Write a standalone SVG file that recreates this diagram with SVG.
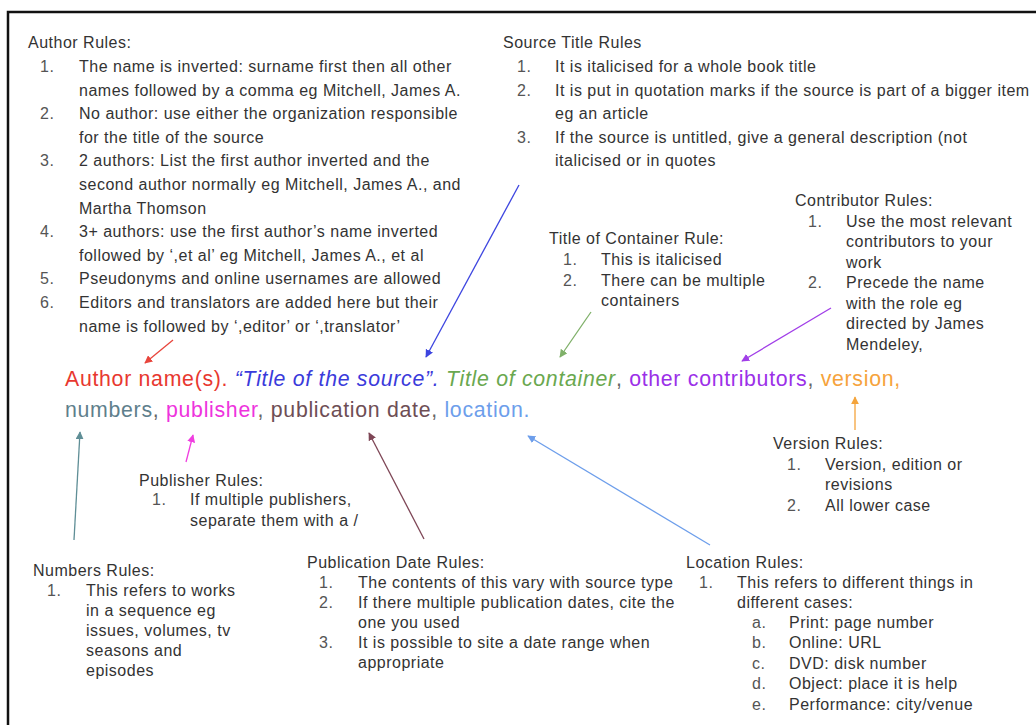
<svg xmlns="http://www.w3.org/2000/svg" width="1036" height="725" viewBox="0 0 1036 725">
<style>
.t{font-family:"Liberation Sans",Arial,sans-serif;font-size:16px;letter-spacing:0.5px;fill:#333}
.n{font-family:"Liberation Sans",Arial,sans-serif;font-size:16px;letter-spacing:0.5px;fill:#555}
.m{font-family:"Liberation Sans",Arial,sans-serif;font-size:21.3px;letter-spacing:0.7px;fill:#666}
.c{fill:none;stroke-width:1.3}
</style>
<defs>
<marker id="aRed" viewBox="0 0 10 10" refX="9" refY="5" markerWidth="8" markerHeight="8" markerUnits="userSpaceOnUse" orient="auto"><path d="M0,0 L10,5 L0,10 z" fill="#e8453c"/></marker>
<marker id="aBlue" viewBox="0 0 10 10" refX="9" refY="5" markerWidth="8" markerHeight="8" markerUnits="userSpaceOnUse" orient="auto"><path d="M0,0 L10,5 L0,10 z" fill="#3d45e0"/></marker>
<marker id="aGreen" viewBox="0 0 10 10" refX="9" refY="5" markerWidth="8" markerHeight="8" markerUnits="userSpaceOnUse" orient="auto"><path d="M0,0 L10,5 L0,10 z" fill="#7fb069"/></marker>
<marker id="aPurple" viewBox="0 0 10 10" refX="9" refY="5" markerWidth="8" markerHeight="8" markerUnits="userSpaceOnUse" orient="auto"><path d="M0,0 L10,5 L0,10 z" fill="#a13ee8"/></marker>
<marker id="aOrange" viewBox="0 0 10 10" refX="9" refY="5" markerWidth="8" markerHeight="8" markerUnits="userSpaceOnUse" orient="auto"><path d="M0,0 L10,5 L0,10 z" fill="#f4a43c"/></marker>
<marker id="aTeal" viewBox="0 0 10 10" refX="9" refY="5" markerWidth="8" markerHeight="8" markerUnits="userSpaceOnUse" orient="auto"><path d="M0,0 L10,5 L0,10 z" fill="#5f8e96"/></marker>
<marker id="aMag" viewBox="0 0 10 10" refX="9" refY="5" markerWidth="8" markerHeight="8" markerUnits="userSpaceOnUse" orient="auto"><path d="M0,0 L10,5 L0,10 z" fill="#f03ee0"/></marker>
<marker id="aMaroon" viewBox="0 0 10 10" refX="9" refY="5" markerWidth="8" markerHeight="8" markerUnits="userSpaceOnUse" orient="auto"><path d="M0,0 L10,5 L0,10 z" fill="#7e4656"/></marker>
<marker id="aLBlue" viewBox="0 0 10 10" refX="9" refY="5" markerWidth="8" markerHeight="8" markerUnits="userSpaceOnUse" orient="auto"><path d="M0,0 L10,5 L0,10 z" fill="#6d9eeb"/></marker>
</defs>
<rect x="0" y="0" width="1036" height="725" fill="#fff"/>
<rect x="8" y="12" width="1100" height="800" fill="none" stroke="#111" stroke-width="2.5"/>

<g id="author-rules">
<text class="t" x="28" y="48">Author Rules:</text>
<text class="n" x="40" y="72">1.</text><text class="t" x="79" y="72">The name is inverted: surname first then all other</text>
<text class="t" x="79" y="95.6">names followed by a comma eg Mitchell, James A.</text>
<text class="n" x="40" y="119.2">2.</text><text class="t" x="79" y="119.2">No author: use either the organization responsible</text>
<text class="t" x="79" y="142.8">for the title of the source</text>
<text class="n" x="40" y="166.4">3.</text><text class="t" x="79" y="166.4">2 authors: List the first author inverted and the</text>
<text class="t" x="79" y="190">second author normally eg Mitchell, James A., and</text>
<text class="t" x="79" y="213.6">Martha Thomson</text>
<text class="n" x="40" y="237.2">4.</text><text class="t" x="79" y="237.2">3+ authors: use the first author’s name inverted</text>
<text class="t" x="79" y="260.8">followed by ‘,et al’ eg Mitchell, James A., et al</text>
<text class="n" x="40" y="284.4">5.</text><text class="t" x="79" y="284.4">Pseudonyms and online usernames are allowed</text>
<text class="n" x="40" y="308">6.</text><text class="t" x="79" y="308">Editors and translators are added here but their</text>
<text class="t" x="79" y="331.6">name is followed by ‘,editor’ or ‘,translator’</text>
</g>

<g id="source-title-rules">
<text class="t" x="503" y="48">Source Title Rules</text>
<text class="n" x="517" y="72">1.</text><text class="t" x="555" y="72">It is italicised for a whole book title</text>
<text class="n" x="517" y="95.6">2.</text><text class="t" x="555" y="95.6">It is put in quotation marks if the source is part of a bigger item</text>
<text class="t" x="555" y="119.2">eg an article</text>
<text class="n" x="517" y="142.8">3.</text><text class="t" x="555" y="142.8">If the source is untitled, give a general description (not</text>
<text class="t" x="555" y="166.4">italicised or in quotes</text>
</g>

<g id="contributor-rules">
<text class="t" x="795" y="205.5">Contributor Rules:</text>
<text class="n" x="808" y="226.5">1.</text><text class="t" x="846" y="226.5">Use the most relevant</text>
<text class="t" x="846" y="247">contributors to your</text>
<text class="t" x="846" y="267.5">work</text>
<text class="n" x="808" y="288">2.</text><text class="t" x="846" y="288">Precede the name</text>
<text class="t" x="846" y="308.5">with the role eg</text>
<text class="t" x="846" y="329">directed by James</text>
<text class="t" x="846" y="349.5">Mendeley,</text>
</g>

<g id="container-rule">
<text class="t" x="549" y="244">Title of Container Rule:</text>
<text class="n" x="563" y="265">1.</text><text class="t" x="601" y="265">This is italicised</text>
<text class="n" x="563" y="285.5">2.</text><text class="t" x="601" y="285.5">There can be multiple</text>
<text class="t" x="601" y="306">containers</text>
</g>

<g id="citation">
<text class="m" x="65" y="386"><tspan fill="#e8382f">Author name(s). </tspan><tspan fill="#3b3bdb" font-style="italic">“Title of the source”. </tspan><tspan fill="#6aa84f" font-style="italic">Title of container</tspan><tspan>, </tspan><tspan fill="#9b30e8">other contributors</tspan><tspan>, </tspan><tspan fill="#f6a33c">version,</tspan></text>
<text class="m" x="65" y="417"><tspan fill="#5f7f8c">numbers</tspan><tspan>, </tspan><tspan fill="#ee33dd">publisher</tspan><tspan>, </tspan><tspan fill="#6e4e55">publication date</tspan><tspan>, </tspan><tspan fill="#6d9eeb">location.</tspan></text>
</g>

<g id="version-rules">
<text class="t" x="773" y="449">Version Rules:</text>
<text class="n" x="787" y="470">1.</text><text class="t" x="825" y="470">Version, edition or</text>
<text class="t" x="825" y="490">revisions</text>
<text class="n" x="787" y="510.5">2.</text><text class="t" x="825" y="510.5">All lower case</text>
</g>

<g id="publisher-rules">
<text class="t" x="139" y="485.5">Publisher Rules:</text>
<text class="n" x="152" y="505">1.</text><text class="t" x="190" y="505">If multiple publishers,</text>
<text class="t" x="190" y="525.5">separate them with a /</text>
</g>

<g id="numbers-rules">
<text class="t" x="33" y="575.5">Numbers Rules:</text>
<text class="n" x="47" y="595.5">1.</text><text class="t" x="86" y="595.5">This refers to works</text>
<text class="t" x="86" y="615.5">in a sequence eg</text>
<text class="t" x="86" y="635.5">issues, volumes, tv</text>
<text class="t" x="86" y="655.5">seasons and</text>
<text class="t" x="86" y="675.5">episodes</text>
</g>

<g id="pubdate-rules">
<text class="t" x="307" y="567.5">Publication Date Rules:</text>
<text class="n" x="319" y="588">1.</text><text class="t" x="358" y="588">The contents of this vary with source type</text>
<text class="n" x="319" y="608">2.</text><text class="t" x="358" y="608">If there multiple publication dates, cite the</text>
<text class="t" x="358" y="628">one you used</text>
<text class="n" x="319" y="648">3.</text><text class="t" x="358" y="648">It is possible to site a date range when</text>
<text class="t" x="358" y="668">appropriate</text>
</g>

<g id="location-rules">
<text class="t" x="686" y="567.5">Location Rules:</text>
<text class="n" x="699" y="587.5">1.</text><text class="t" x="737" y="587.5">This refers to different things in</text>
<text class="t" x="737" y="607.5">different cases:</text>
<text class="n" x="752" y="627.5">a.</text><text class="t" x="789" y="627.5">Print: page number</text>
<text class="n" x="752" y="648">b.</text><text class="t" x="789" y="648">Online: URL</text>
<text class="n" x="752" y="668.5">c.</text><text class="t" x="789" y="668.5">DVD: disk number</text>
<text class="n" x="752" y="689">d.</text><text class="t" x="789" y="689">Object: place it is help</text>
<text class="n" x="752" y="709.5">e.</text><text class="t" x="789" y="709.5">Performance: city/venue</text>
</g>

<g id="connectors">
<path class="c" d="M173,340 L145,363" stroke="#e8453c" marker-end="url(#aRed)"/>
<path class="c" d="M519,185 L426,357" stroke="#3d45e0" marker-end="url(#aBlue)"/>
<path class="c" d="M591,312 L560,357" stroke="#7fb069" marker-end="url(#aGreen)"/>
<path class="c" d="M831,308 L742,361" stroke="#a13ee8" marker-end="url(#aPurple)"/>
<path class="c" d="M855,430 L855,397" stroke="#f4a43c" marker-end="url(#aOrange)"/>
<path class="c" d="M74,540 L80,432" stroke="#5f8e96" marker-end="url(#aTeal)"/>
<path class="c" d="M186,462 L193,435" stroke="#f03ee0" marker-end="url(#aMag)"/>
<path class="c" d="M424,539 L369,433" stroke="#7e4656" marker-end="url(#aMaroon)"/>
<path class="c" d="M710,545 L528,436" stroke="#6d9eeb" marker-end="url(#aLBlue)"/>
</g>
</svg>
